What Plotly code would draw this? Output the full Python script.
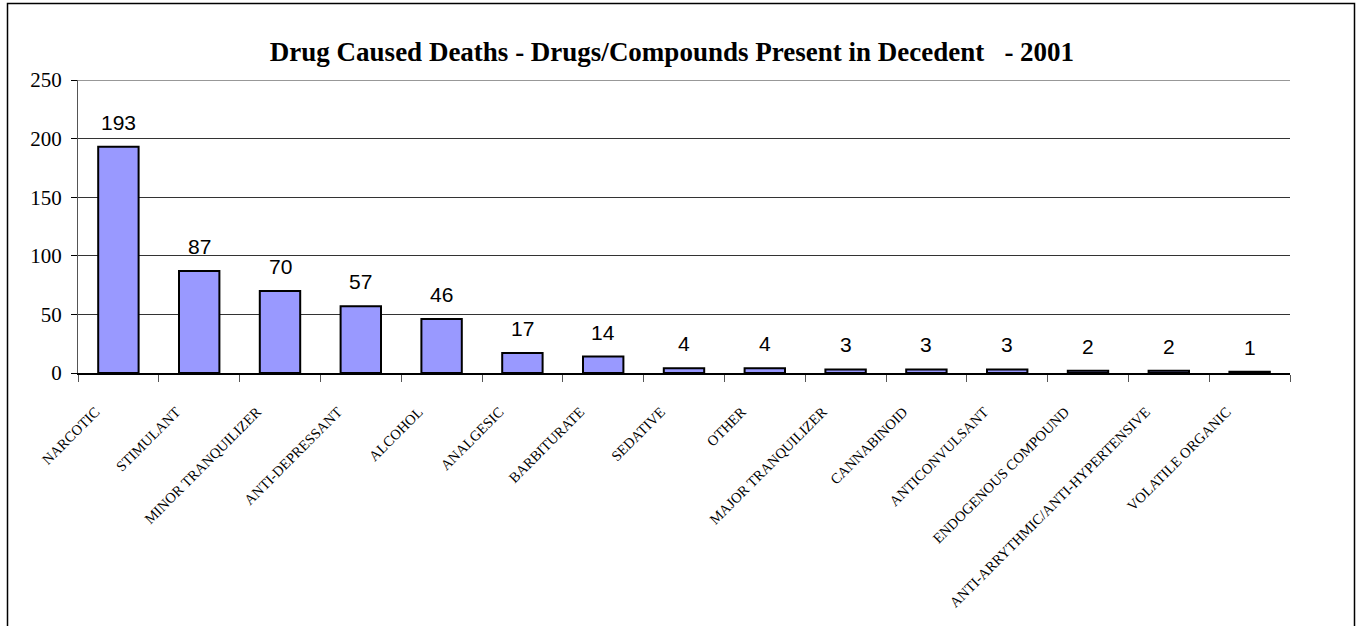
import plotly.graph_objects as go

categories = ['NARCOTIC', 'STIMULANT', 'MINOR TRANQUILIZER', 'ANTI-DEPRESSANT', 'ALCOHOL',
              'ANALGESIC', 'BARBITURATE', 'SEDATIVE', 'OTHER', 'MAJOR TRANQUILIZER',
              'CANNABINOID', 'ANTICONVULSANT', 'ENDOGENOUS COMPOUND',
              'ANTI-ARRYTHMIC/ANTI-HYPERTENSIVE', 'VOLATILE ORGANIC']
deaths = [193, 87, 70, 57, 46, 17, 14, 4, 4, 3, 3, 3, 2, 2, 1]
y_ticks = [0, 50, 100, 150, 200, 250]

W, H = 1356, 626
left, right, top, bottom = 78, 1290, 80, 373

serif = 'Times New Roman, Liberation Serif, serif'
sans = 'Arial, Liberation Sans, sans-serif'

fig = go.Figure()

fig.add_trace(go.Bar(
    x=categories,
    y=deaths,
    width=0.5,
    marker=dict(color='#9999FF', line=dict(color='black', width=2)),
    showlegend=False,
    hoverinfo='x+y'
))

# value labels above the bars
for cat, val in zip(categories, deaths):
    fig.add_annotation(x=cat, y=val, text=str(val), showarrow=False,
                       xanchor='center', yanchor='bottom', yshift=11,
                       font=dict(family=sans, size=21, color='black'))

# top gridline (plotly drops it at the edge of the range)
fig.add_shape(type='line', xref='paper', x0=0, x1=1, yref='y',
              y0=y_ticks[-1], y1=y_ticks[-1], line=dict(color='#333', width=1))

# outer chart border
pw, ph = right - left, bottom - top
fig.add_shape(type='rect', xref='paper', yref='paper',
              x0=(7.5 - left) / pw, x1=(1354.5 - left) / pw,
              y0=(bottom - 660) / ph, y1=(bottom - 3.5) / ph,
              line=dict(color='black', width=1.5), fillcolor='rgba(0,0,0,0)', layer='below')

fig.update_layout(
    width=W, height=H,
    margin=dict(l=left, r=W - right, t=top, b=H - bottom, autoexpand=False),
    paper_bgcolor='white',
    plot_bgcolor='white',
    title=dict(text='<b>Drug Caused Deaths - Drugs/Compounds Present in Decedent   - 2001</b>',
               font=dict(family=serif, size=27, color='black'),
               x=672 / W, xanchor='center', y=1 - 52 / H, yanchor='middle'),
    xaxis=dict(
        type='category',
        tickangle=-45,
        tickfont=dict(family=serif, size=14.5, color='black'),
        ticks='outside', tickson='boundaries', ticklen=7, tickcolor='#555',
        ticklabelstandoff=23, ticklabelshift=-23,
        showline=True, linecolor='black', linewidth=1.5,
        showgrid=False, automargin=False
    ),
    yaxis=dict(
        range=[0, 250],
        tickvals=y_ticks,
        tickfont=dict(family=serif, size=21, color='black'),
        ticks='outside', ticklen=6, tickcolor='black',
        ticklabelstandoff=5,
        showline=True, linecolor='#555', linewidth=1,
        showgrid=True, gridcolor='#333', gridwidth=1,
        zeroline=False, automargin=False
    )
)

fig.write_html("out.html", config={'displayModeBar': False},
               post_script="document.body.style.margin='0';")
